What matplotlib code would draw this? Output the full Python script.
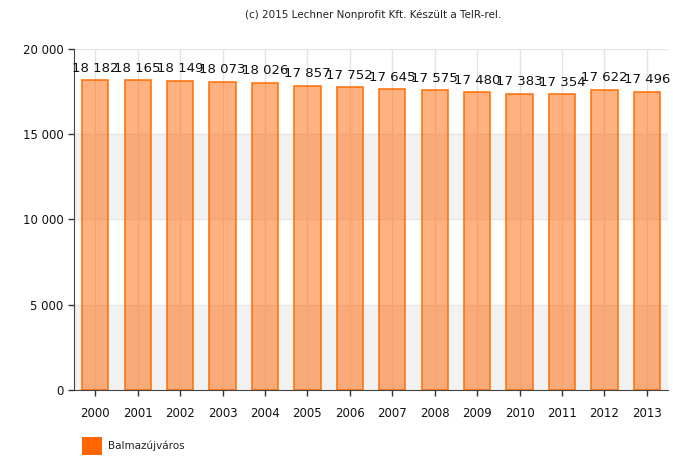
import matplotlib.pyplot as plt
from matplotlib.patches import Rectangle

years = ["2000", "2001", "2002", "2003", "2004", "2005", "2006",
         "2007", "2008", "2009", "2010", "2011", "2012", "2013"]
values = [18182, 18165, 18149, 18073, 18026, 17857, 17752,
          17645, 17575, 17480, 17383, 17354, 17622, 17496]
series_name = "Balmazújváros"
title = "(c) 2015 Lechner Nonprofit Kft. Készült a TeIR-rel."


def fmt(v):
    return f"{v:,}".replace(",", " ")


fig = plt.figure(figsize=(6.73, 4.57), dpi=100)
ax = fig.add_axes([0.11, 0.1466, 0.8826, 0.7462])

x = list(range(len(years)))
ax.set_xlim(-0.5, len(years) - 0.5)
ax.set_ylim(0, 20000)

# alternating bands
for lo in (0, 10000):
    ax.axhspan(lo, lo + 5000, color="#f2f2f2", zorder=0, lw=0)
for y in (5000, 10000, 15000, 20000):
    ax.axhline(y, color="#e6e6e6", lw=1, zorder=0.5)
for xi in x:
    ax.axvline(xi, color="#e3e3e3", lw=1, zorder=0.5)

ax.bar(x, values, width=0.62, facecolor=(1.0, 0.4, 0.0, 0.5),
       edgecolor=(1.0, 0.42, 0.0, 0.9), linewidth=1.2, zorder=2)

for xi, v in zip(x, values):
    ax.text(xi, v + 320, fmt(v), ha="center", va="bottom", fontsize=9.5,
            color="#111111", zorder=3)

ax.set_yticks([0, 5000, 10000, 15000, 20000])
ax.set_yticklabels([fmt(v) for v in [0, 5000, 10000, 15000, 20000]])
ax.set_xticks(x)
ax.set_xticklabels(years)
ax.tick_params(axis="both", labelsize=8.5, colors="#333333", length=4, width=1)
ax.tick_params(axis="x", pad=8)
for t in ax.get_xticklabels() + ax.get_yticklabels():
    t.set_color("#111111")

for s in ("top", "right"):
    ax.spines[s].set_visible(False)
for s in ("left", "bottom"):
    ax.spines[s].set_color("#444444")

fig.text(0.554, 0.968, title, ha="center", va="center", fontsize=7.5, color="#222222")

fig.patches.append(Rectangle((0.122, 0.004), 0.029, 0.039, transform=fig.transFigure,
                             facecolor="#ff6600", edgecolor="none"))
fig.text(0.16, 0.024, series_name, ha="left", va="center", fontsize=7.5, color="#222222")

fig.savefig("out.png", dpi=100)
